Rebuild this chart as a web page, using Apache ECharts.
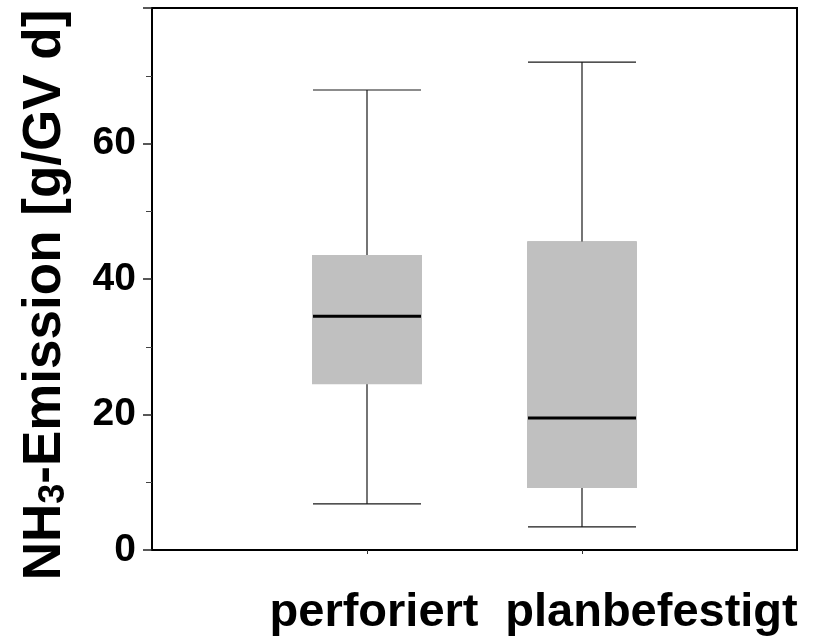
<!DOCTYPE html>
<html>
<head>
<meta charset="utf-8">
<script src="https://cdn.jsdelivr.net/npm/echarts@6/dist/echarts.min.js"></script>
<style>
  html, body { margin: 0; padding: 0; background: #fff; }
  #chart { width: 817px; height: 641px; }
</style>
</head>
<body>
<div id="chart"></div>
<script>
// Kategorien (Bodenart)
const categories = ['perforiert', 'planbefestigt']
// Boxplot-Werte je Kategorie: min, Q1, Median, Q3, max
const lowWhisker = [6.8, 3.4]
const q1 = [24.6, 9.3]
const median = [34.5, 19.5]
const q3 = [43.4, 45.4]
const highWhisker = [67.9, 72.0]
// Achsen
const yTicks = [0, 20, 40, 60, 80]

const FONT = 'Liberation Sans, Arial, sans-serif'
const empty = ['-', '-', '-', '-', '-']

// ein leerer Platz links und rechts, damit die Boxen bei 1/3 und 2/3 stehen
const axisData = [''].concat(categories, [''])

function padded(rows) {
  return [empty].concat(rows, [empty])
}

const fullData = padded(categories.map((c, i) => [lowWhisker[i], q1[i], median[i], q3[i], highWhisker[i]]))
const boxData = padded(categories.map((c, i) => [q1[i], q1[i], median[i], q3[i], q3[i]]))
const medianData = padded(categories.map((c, i) => [median[i], median[i], median[i], median[i], median[i]]))

// jede Boxplot-Ebene bekommt eine eigene (unsichtbare) x-Achse, sonst werden sie nebeneinander gesetzt
function hiddenX() {
  return {
    type: 'category',
    data: axisData,
    boundaryGap: false,
    show: false
  }
}

const option = {
  animation: false,
  backgroundColor: '#fff',
  grid: {
    left: 152,
    right: 20,
    top: 8,
    bottom: 91,
    outerBoundsMode: 'none',
    containLabel: false,
    show: true,
    borderColor: '#000',
    borderWidth: 2
  },
  xAxis: [
    {
      type: 'category',
      data: axisData,
      boundaryGap: false,
      axisLine: { lineStyle: { color: '#000', width: 2 } },
      axisTick: {
        length: 4,
        interval: (idx) => idx === 1 || idx === 2,
        lineStyle: { color: '#333', width: 1 }
      },
      axisLabel: {
        interval: 0,
        margin: 40,
        formatter: (value) => {
          if (!value) return ''
          return value === 'planbefestigt' ? '{q|' + value + '}' : '{p|' + value + '}'
        },
        rich: {
          p: { fontFamily: FONT, fontSize: 47, fontWeight: 'bold', color: '#000', padding: [0, 0, 0, 14] },
          q: { fontFamily: FONT, fontSize: 47, fontWeight: 'bold', color: '#000', padding: [0, 0, 0, 139] }
        }
      },
      splitLine: { show: false }
    },
    hiddenX(),
    hiddenX()
  ],
  yAxis: {
    type: 'value',
    min: yTicks[0],
    max: yTicks[yTicks.length - 1],
    interval: yTicks[1] - yTicks[0],
    name: '{a|NH}{s|3}{a|-Emission [g/GV d]}',
    nameLocation: 'middle',
    nameRotate: 90,
    nameGap: 80,
    nameTextStyle: {
      padding: [0, 32, 0, 0],
      rich: {
        a: { fontFamily: FONT, fontSize: 53, fontWeight: 'bold', color: '#000', lineHeight: 53, verticalAlign: 'top' },
        s: { fontFamily: FONT, fontSize: 36, fontWeight: 'bold', color: '#000', lineHeight: 36, verticalAlign: 'bottom', padding: [44, 0, 0, 0] }
      }
    },
    axisLine: { show: true, lineStyle: { color: '#000', width: 2 } },
    axisTick: { show: true, length: 9, lineStyle: { color: '#222', width: 1.5 } },
    minorTick: { show: true, splitNumber: 2, length: 6, lineStyle: { color: '#444', width: 1 } },
    axisLabel: {
      showMaxLabel: false,
      margin: 16,
      fontFamily: FONT,
      fontSize: 39,
      fontWeight: 'bold',
      color: '#000'
    },
    splitLine: { show: false }
  },
  series: [
    {
      // Whisker
      type: 'boxplot',
      xAxisIndex: 0,
      data: fullData,
      boxWidth: [108, 108],
      z: 2,
      itemStyle: { color: '#c0c0c0', borderColor: '#1a1a1a', borderWidth: 1.2 },
      emphasis: { disabled: true }
    },
    {
      // graue Box ohne Rand
      type: 'boxplot',
      xAxisIndex: 1,
      data: boxData,
      boxWidth: [108, 108],
      z: 3,
      itemStyle: { color: '#c0c0c0', borderColor: '#c0c0c0', borderWidth: 2 },
      emphasis: { disabled: true }
    },
    {
      // Median
      type: 'boxplot',
      xAxisIndex: 2,
      data: medianData,
      boxWidth: [108, 108],
      z: 4,
      itemStyle: { color: '#000', borderColor: '#000', borderWidth: 3 },
      emphasis: { disabled: true }
    }
  ]
}

const chart = echarts.init(document.getElementById('chart'))
chart.setOption(option)
</script>
</body>
</html>
